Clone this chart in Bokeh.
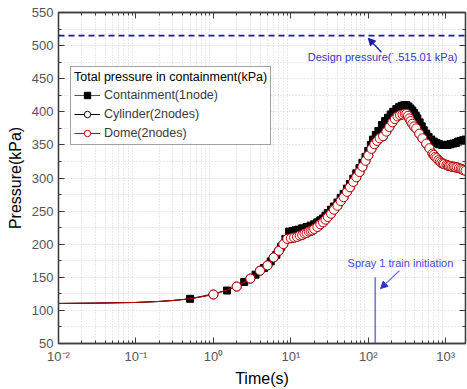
import math
from bokeh.plotting import figure
from bokeh.models import (Range1d, FixedTicker, SingleIntervalTicker, LogAxis, LinearAxis,
                          Span, Label, Arrow, NormalHead, Legend, LegendItem,
                          CustomJSTickFormatter, ColumnDataSource)
from bokeh.embed import file_html
from bokeh.resources import INLINE

# ---------------- data ----------------
t_containment = [0.01, 0.03, 0.1, 0.2, 0.3, 0.5, 1.5, 2.5, 3.5, 4.5, 5.5, 6.5, 7.5, 8.5, 9.5,
                 10.5, 11.5, 12.5, 14, 16, 18, 20, 22, 24, 26, 28, 30, 33, 36, 40, 44, 48, 53,
                 58, 64, 70, 77, 84, 92, 100, 108, 115, 125, 135, 150, 165, 180, 195, 210, 230,
                 250, 270, 290, 310, 330, 350, 370, 390, 410, 430, 460, 490, 520, 560, 600, 650,
                 700, 760, 820, 900, 980, 1060, 1150, 1250, 1350, 1450, 1560, 1680, 1800]
p_containment = [110.5, 111, 112, 113.5, 115, 117.5, 130, 143, 154, 164, 174, 184, 196, 208, 219,
                 220, 221, 222, 224, 226, 228, 230, 233, 236, 239, 243, 247, 252, 257, 263, 270, 276, 284,
                 291, 299, 307, 315, 323, 332, 341, 350, 358, 365, 371, 380, 386, 391, 396, 400, 404,
                 407, 409, 410, 410, 408, 405, 402, 398, 394, 390, 384, 378, 372, 367, 362, 358,
                 355, 353, 351, 350, 350, 350, 351, 352, 353, 355, 356, 357, 358]

t_dome = [0.01, 0.03, 0.1, 0.2, 0.3, 0.5, 1, 2, 3, 4, 5, 6, 7, 8, 9, 10, 11, 12, 13, 14, 15, 16,
          17, 18, 19, 20, 22, 24, 26, 28, 30, 33, 36, 40, 44, 48, 53, 58, 64, 70, 77, 84, 92, 100,
          110, 120, 130, 140, 155, 171, 187, 204, 220, 238, 256, 276, 295, 310, 325, 338, 352, 370,
          390, 415, 455, 500, 560, 615, 675, 700, 730, 760, 800, 840, 875, 920, 950, 1020, 1060,
          1100, 1150, 1210, 1270, 1330, 1400, 1480, 1560, 1630, 1700, 1800]
p_dome = [110.5, 111, 112, 113.5, 115, 117.5, 124, 136, 148, 160, 168, 180, 190, 200, 208, 209, 210,
          211, 213, 214, 216, 217, 219, 220, 221, 223, 226, 230, 233, 237, 241, 246, 252, 258, 265,
          271, 279, 286, 294, 301, 309, 317, 326, 334, 344, 351, 356, 360, 363, 370, 377, 384, 389,
          393, 395, 396, 397, 397, 394, 390, 386, 382, 378, 375, 367, 360, 352, 345, 337, 335, 332,
          330, 327, 325, 323, 322, 321, 320, 319, 318, 318, 317, 317, 316, 316, 315, 314, 313, 312, 311]

t_cylinder = list(t_dome)
p_cylinder = [110.5, 111, 112, 113.5, 115, 117.5, 124, 136, 148, 160, 168, 180, 190, 200, 208, 209, 210,
              211, 213, 214, 216, 217, 219, 220, 221, 223, 226, 230, 233, 237, 241, 246, 252, 258, 265,
              271, 279, 286, 294, 301, 309, 317, 326, 334, 344, 351, 356, 360, 363, 370, 377, 384, 389,
              393, 395, 396, 397, 397, 394, 390, 386, 382, 378, 375, 367, 360, 352, 345, 337, 335, 332,
              330, 327, 325, 323, 322, 321, 320, 319, 318, 318, 317, 317, 316, 316, 315, 314, 313, 312, 311]

first_marker_containment = 0.5
first_marker_round = 1.0

series_names = ["Containment(1node)", "Cylinder(2nodes)", "Dome(2nodes)"]
legend_title = "Total pressure in containment(kPa)"

design_pressure = 515.01
design_text = "Design pressure(˙.515.01 kPa)"
design_text_pos = (16.5, 483.5)
design_arrow = (148, 490, 100, 511)

spray_time = 123
spray_line_top = 150
spray_text = "Spray 1 train initiation"
spray_text_pos = (54, 172)
spray_arrow = (253, 160, 144, 133)

x_start, x_end = 0.01, 1800
y_start, y_end = 50, 550
x_ticks = [0.01, 0.1, 1, 10, 100, 1000]
x_tick_labels = ["10⁻²", "10⁻¹", "10⁰", "10¹", "10²", "10³"]
y_tick_step = 50

x_label = "Time(s)"
y_label = "Pressure(kPa)"

# ---------------- figure ----------------
FONT = "Liberation Sans"
AX = "#3c3c3c"

p = figure(width=467, height=389, x_axis_type="log",
           x_range=Range1d(x_start, x_end), y_range=Range1d(y_start, y_end),
           output_backend="svg", toolbar_location=None,
           min_border_left=58, min_border_right=2, min_border_top=12, min_border_bottom=46,
           background_fill_color="white", border_fill_color="white")
p.outline_line_color = AX
p.outline_line_width = 1.3

x_minor = []
for e in range(-2, 4):
    for k in range(2, 10):
        v = k * 10.0 ** e
        if v <= x_end:
            x_minor.append(v)
xt = FixedTicker(ticks=x_ticks, minor_ticks=x_minor)
yt = SingleIntervalTicker(interval=y_tick_step, num_minor_ticks=2)

fmt = CustomJSTickFormatter(args=dict(tk=x_ticks, lb=x_tick_labels), code="""
let best = 0, bd = Infinity;
for (let i = 0; i < tk.length; i++) {
  const d = Math.abs(Math.log10(tick) - Math.log10(tk[i]));
  if (d < bd) { bd = d; best = i; }
}
return lb[best];
""")

def style_axis(ax):
    ax.axis_line_color = AX
    ax.axis_line_width = 1.3
    ax.major_tick_line_color = AX
    ax.minor_tick_line_color = AX
    ax.major_tick_in = 6
    ax.major_tick_out = 0
    ax.minor_tick_in = 3
    ax.minor_tick_out = 0
    ax.major_label_text_font = FONT
    ax.major_label_text_font_size = "13px"
    ax.major_label_text_color = "#555555"
    ax.axis_label_text_font = FONT
    ax.axis_label_text_font_size = "16px"
    ax.axis_label_text_font_style = "normal"
    ax.axis_label_text_color = "black"

xa = p.xaxis[0]
xa.ticker = xt
xa.formatter = fmt
style_axis(xa)
xa.major_label_standoff = 5
xa.axis_label = x_label
xa.axis_label_standoff = 3

ya = p.yaxis[0]
ya.ticker = yt
style_axis(ya)
ya.major_label_standoff = 5
ya.axis_label = y_label
ya.axis_label_standoff = 5

top = LogAxis(ticker=xt)
style_axis(top)
top.major_label_text_font_size = "1px"
top.major_label_text_alpha = 0
top.major_label_standoff = 0
p.add_layout(top, "above")

right = LinearAxis(ticker=yt)
style_axis(right)
right.major_label_text_font_size = "1px"
right.major_label_text_alpha = 0
right.major_label_standoff = 0
p.add_layout(right, "right")

p.xgrid.ticker = xt
p.ygrid.ticker = yt
for g in (p.xgrid[0], p.ygrid[0]):
    g.grid_line_color = None
    g.minor_grid_line_color = "#d2d2d2"
    g.minor_grid_line_dash = "1 2"
    g.minor_grid_line_width = 1

# ---------------- series ----------------
def marker_subset(ts, ps, tmin):
    xs = [t for t in ts if t >= tmin]
    ys = [v for t, v in zip(ts, ps) if t >= tmin]
    return xs, ys

l1 = p.line(t_containment, p_containment, line_color="#555555", line_width=1)
mx, my = marker_subset(t_containment, p_containment, first_marker_containment)
s1 = p.scatter(mx, my, marker="square", size=7, fill_color="black", line_color="black")

l2 = p.line(t_cylinder, p_cylinder, line_color="black", line_width=1)
mx, my = marker_subset(t_cylinder, p_cylinder, first_marker_round)
s2 = p.scatter(mx, my, marker="circle", size=9, fill_color="white", line_color="black", line_width=1)

l3 = p.line(t_dome, p_dome, line_color="#c00000", line_width=1)
mx, my = marker_subset(t_dome, p_dome, first_marker_round)
s3 = p.scatter(mx, my, marker="circle", size=9, fill_color="white", line_color="#c00000", line_width=1)

# ---------------- annotations ----------------
p.add_layout(Span(location=design_pressure, dimension="width", line_color="#1a1a9c",
                  line_width=1.6, line_dash="6 4"))
p.add_layout(Label(x=design_text_pos[0], y=design_text_pos[1], text=design_text,
                   text_font=FONT, text_font_size="11px", text_color="#3434c8",
                   text_baseline="middle", text_align="left"))
p.add_layout(Arrow(end=NormalHead(size=7, fill_color="#1a1aa8", line_color="#1a1aa8"),
                   x_start=design_arrow[0], y_start=design_arrow[1],
                   x_end=design_arrow[2], y_end=design_arrow[3],
                   line_color="#1a1aa8", line_width=1.3))

p.segment(x0=[spray_time], y0=[y_start], x1=[spray_time], y1=[spray_line_top],
          line_color="#7474e0", line_width=1.6)
p.add_layout(Label(x=spray_text_pos[0], y=spray_text_pos[1], text=spray_text,
                   text_font=FONT, text_font_size="11px", text_color="#4848d8",
                   text_baseline="middle", text_align="left"))
p.add_layout(Arrow(end=NormalHead(size=7, fill_color="#3030d0", line_color="#3030d0"),
                   x_start=spray_arrow[0], y_start=spray_arrow[1],
                   x_end=spray_arrow[2], y_end=spray_arrow[3],
                   line_color="#6a6ae0", line_width=1.2))

# ---------------- legend ----------------
legend = Legend(items=[LegendItem(label=series_names[0], renderers=[l1, s1]),
                       LegendItem(label=series_names[1], renderers=[l2, s2]),
                       LegendItem(label=series_names[2], renderers=[l3, s3])],
                title=legend_title, location=(12, 198), orientation="vertical")
legend.title_text_font = FONT
legend.title_text_font_size = "12.5px"
legend.title_text_font_style = "normal"
legend.title_text_color = "black"
legend.title_standoff = 3
legend.label_text_font = FONT
legend.label_text_font_size = "12.5px"
legend.label_text_color = "#3a3a3a"
legend.label_standoff = 4
legend.label_height = 16
legend.glyph_height = 16
legend.glyph_width = 26
legend.spacing = 3
legend.padding = 3
legend.margin = 0
legend.border_line_color = "#444444"
legend.border_line_width = 1
legend.background_fill_color = "white"
legend.background_fill_alpha = 1
p.add_layout(legend)

open("out.html", "w").write(file_html(p, INLINE))
